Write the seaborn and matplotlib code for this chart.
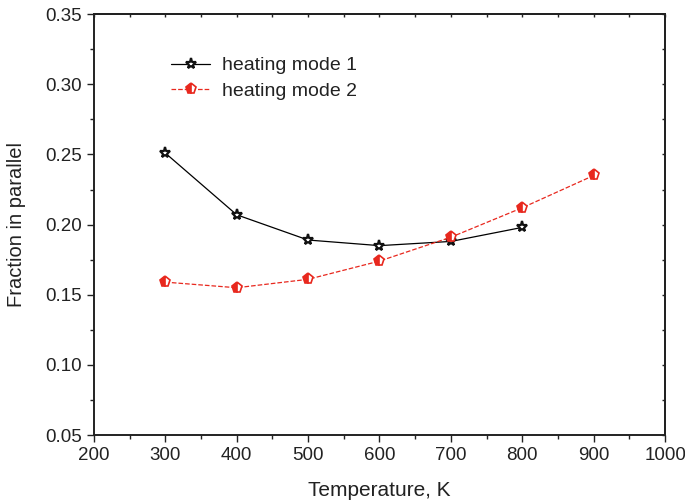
import pandas as pd
import matplotlib
matplotlib.use('Agg')
import matplotlib.pyplot as plt
import seaborn as sns
from matplotlib.ticker import MultipleLocator, NullFormatter

# values
temp_mode1 = [300, 400, 500, 600, 700, 800]
frac_mode1 = [0.251, 0.207, 0.189, 0.185, 0.188, 0.198]
temp_mode2 = [300, 400, 500, 600, 700, 800, 900]
frac_mode2 = [0.159, 0.155, 0.161, 0.174, 0.191, 0.212, 0.235]
ytick_vals = [0.05, 0.10, 0.15, 0.20, 0.25, 0.30, 0.35]

df1 = pd.DataFrame({'T': temp_mode1, 'f': frac_mode1})
df2 = pd.DataFrame({'T': temp_mode2, 'f': frac_mode2})

sns.set_style('ticks')
plt.rcParams['font.family'] = ['Liberation Sans', 'DejaVu Sans']

fig = plt.figure(figsize=(6.85, 5.03), dpi=100)
ax = fig.add_axes([0.137, 0.135, 0.834, 0.837])

sns.lineplot(data=df1, x='T', y='f', ax=ax, color='black', linewidth=0.9,
             marker='*', markersize=8, markerfacecolor='white',
             markeredgecolor='#111111', markeredgewidth=1.6,
             label='heating mode 1')
sns.lineplot(data=df2, x='T', y='f', ax=ax, color='#e8281e', linewidth=0.9,
             linestyle='--', dashes=(3, 2), marker='p', markersize=8,
             fillstyle='left', markerfacecoloralt='white',
             markeredgecolor='#e8281e', markeredgewidth=1.2,
             label='heating mode 2')

ax.set_xlim(200, 1000)
ax.set_ylim(0.05, 0.35)
ax.xaxis.set_major_locator(MultipleLocator(100))
ax.xaxis.set_minor_locator(MultipleLocator(50))
ax.set_yticks(ytick_vals)
ax.set_yticklabels([f'{v:.2f}' for v in ytick_vals])
ax.yaxis.set_minor_locator(MultipleLocator(0.025))

ax.tick_params(axis='both', which='major', direction='out', length=5,
               width=1, labelsize=13.5, colors='#222222')
ax.tick_params(axis='both', which='minor', direction='out', length=3, width=1,
               colors='#222222')

# short inward ticks on the top and right frame
top = ax.secondary_xaxis('top')
top.xaxis.set_major_locator(MultipleLocator(50))
top.xaxis.set_major_formatter(NullFormatter())
top.tick_params(direction='in', length=2.5, width=1, colors='#222222')
right = ax.secondary_yaxis('right')
right.yaxis.set_major_locator(MultipleLocator(0.025))
right.yaxis.set_major_formatter(NullFormatter())
right.tick_params(direction='in', length=2.5, width=1, colors='#222222')

for a in [ax, top, right]:
    for sp in a.spines.values():
        sp.set_linewidth(1.4)
        sp.set_color('#222222')

ax.set_xlabel('Temperature, K', fontsize=15, color='#222222', labelpad=12)
ax.set_ylabel('Fraction in parallel', fontsize=14.5, color='#222222', labelpad=14)

leg = ax.legend(loc='upper left', bbox_to_anchor=(0.105, 0.94), frameon=False,
                fontsize=14, handlelength=2.0, handletextpad=0.6,
                labelspacing=0.4)
for t in leg.get_texts():
    t.set_color('#222222')

fig.savefig('out.png', dpi=100)
